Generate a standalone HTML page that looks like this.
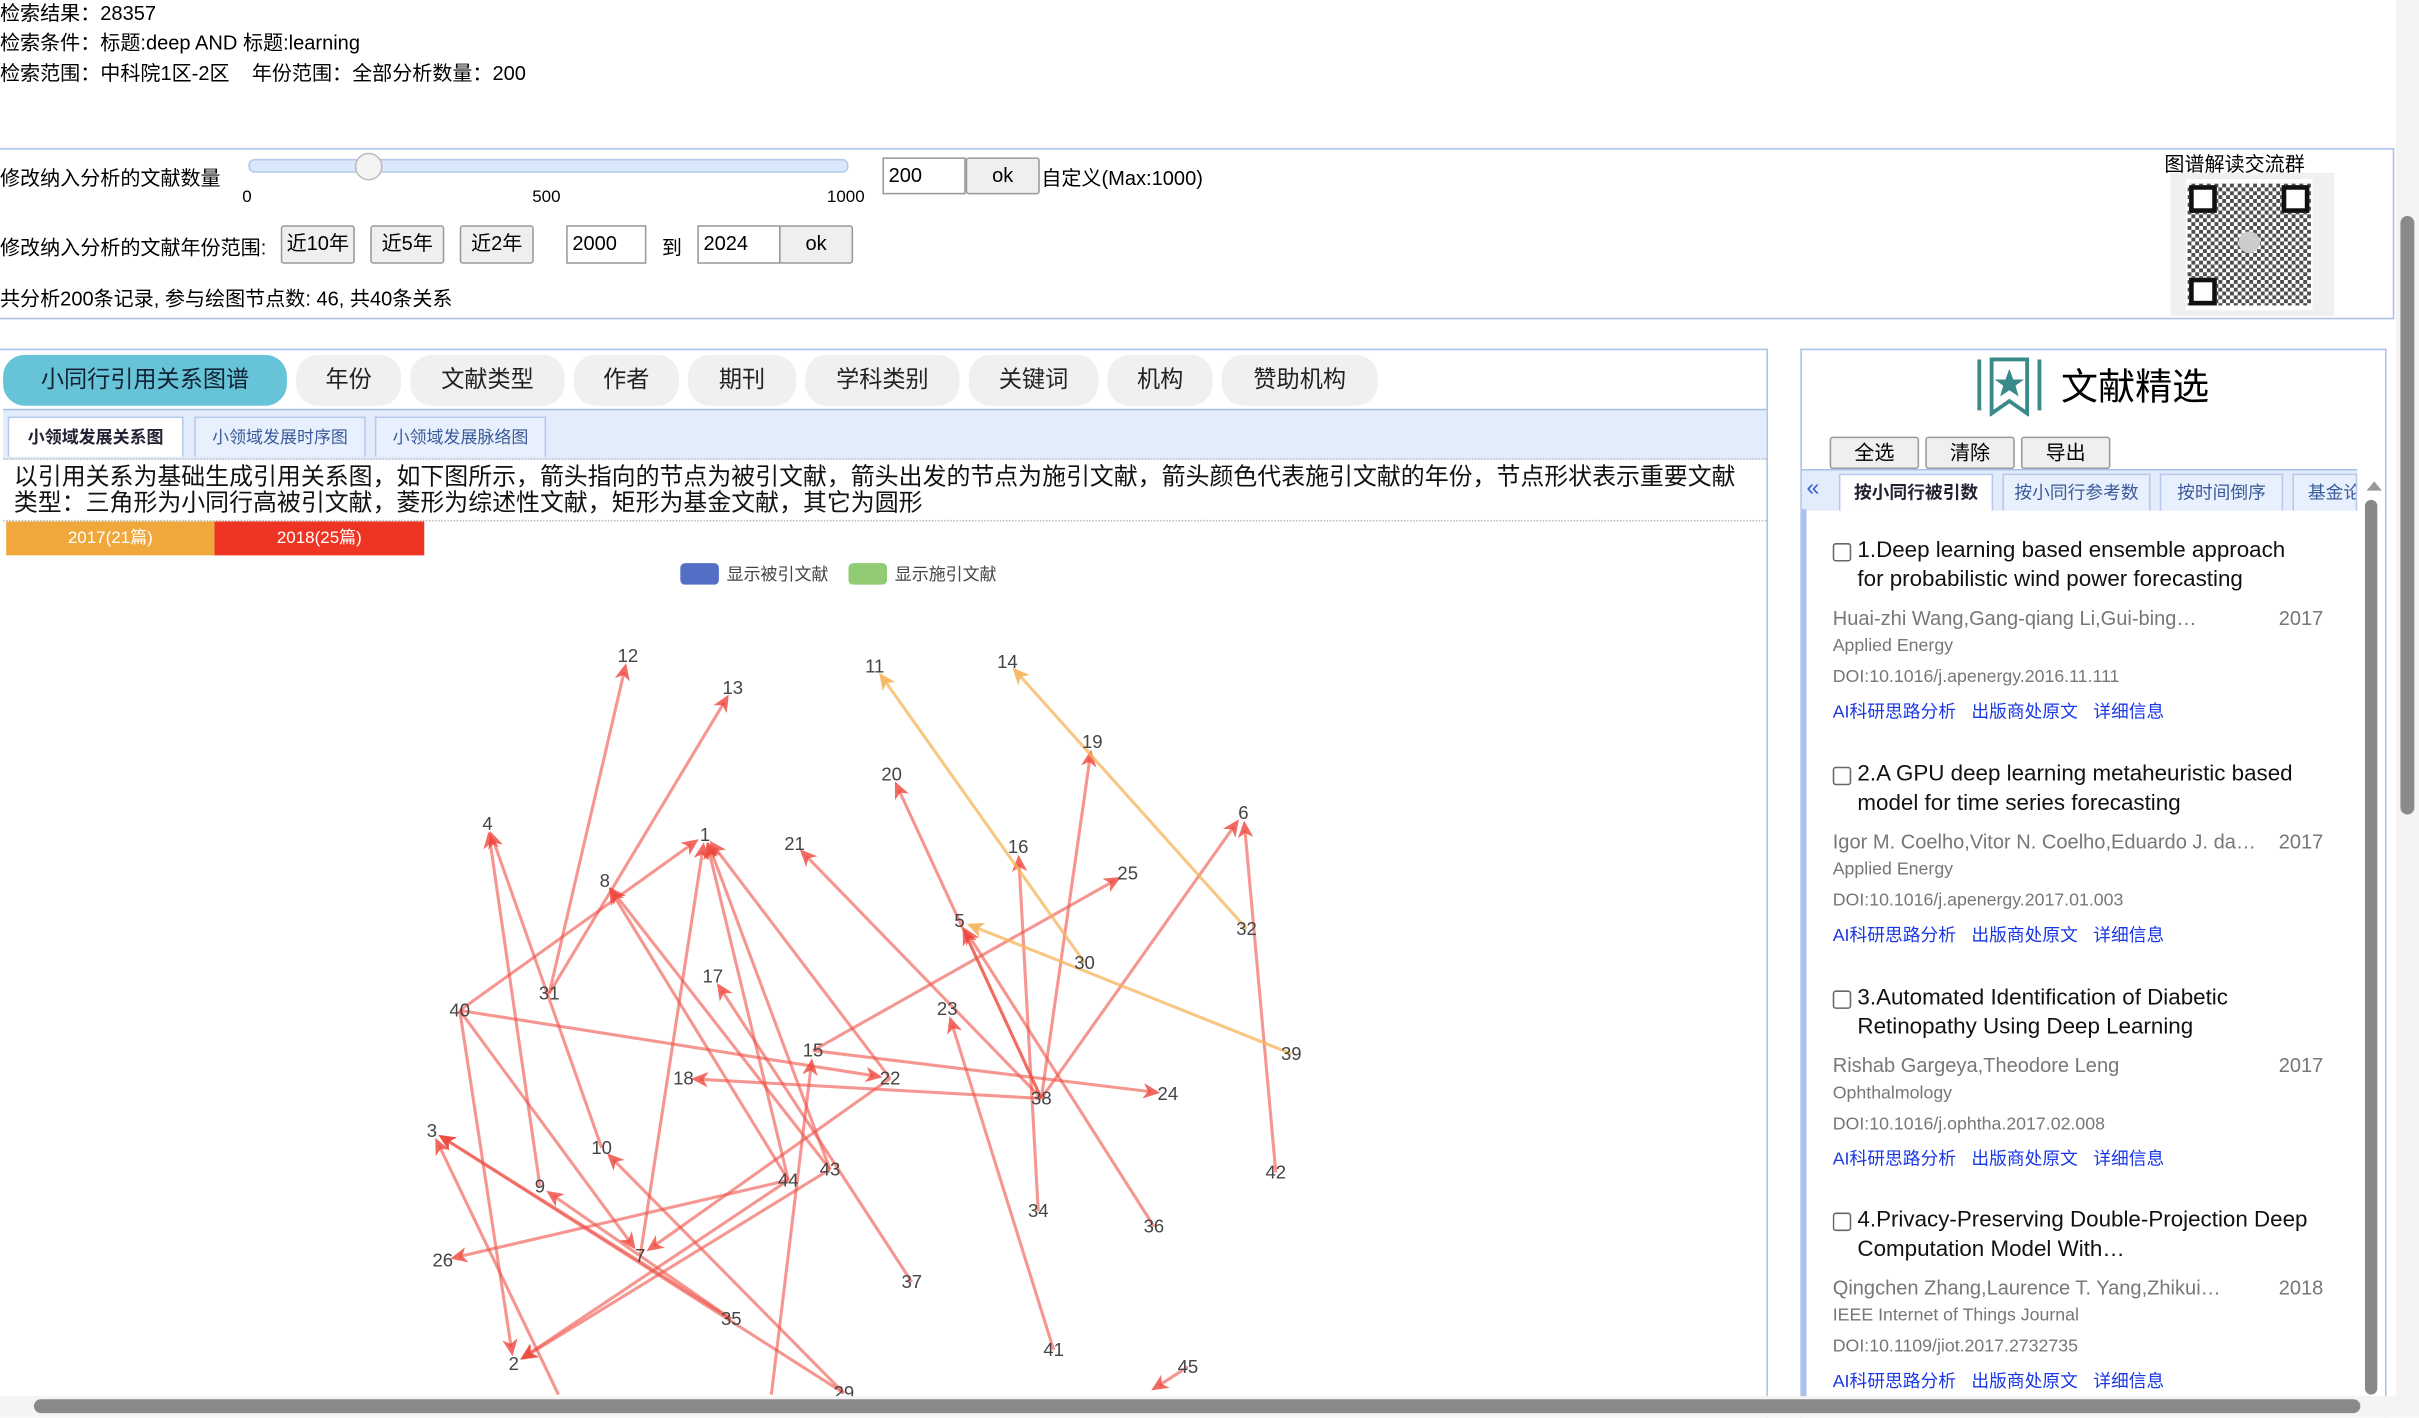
<!DOCTYPE html>
<html><head><meta charset="utf-8">
<style>
html,body{margin:0;padding:0;width:2419px;height:1418px;overflow:hidden;background:#fff}
#wrap{position:absolute;left:0;top:0;width:1568px;height:919px;overflow:hidden;transform:scale(1.5427);transform-origin:0 0;font-family:"Liberation Sans","Noto Sans CJK SC",sans-serif;font-size:13px;color:#000}
.a{position:absolute}
.btn{position:absolute;background:#efefef;border:1px solid #999;border-radius:2px;text-align:center;font-size:13px;line-height:22px;box-sizing:border-box}
.inp{position:absolute;background:#fff;border:1px solid #999;font-size:13px;line-height:22px;padding-left:3px;box-sizing:border-box}
.tab{position:absolute;top:230px;height:33px;background:#f0f0f0;border-radius:14px;text-align:center;line-height:33px;font-size:15px;color:#222}
.sub{position:absolute;top:270px;height:26px;background:#e8f0fd;border:1px solid #b7c9ee;border-bottom:none;font-size:11px;line-height:26px;text-align:center;color:#3a5a9a;box-sizing:border-box}
.item{position:absolute;left:1188px;width:330px}
.t{font-size:14.5px;line-height:18.5px;color:#111;padding-left:16px;position:relative;width:294px}
.t .cb{position:absolute;left:0;top:4px;width:10px;height:10px;border:1px solid #666;border-radius:2px}
.au{color:#777;font-size:13px;margin-top:8px;position:relative}
.au span{position:absolute;right:12px}
.jn{color:#777;font-size:11.5px;margin-top:5px}
.doi{color:#777;font-size:11.5px;margin-top:8px}
.lk{color:#1a37e6;font-size:11.5px;margin-top:8px}
.lk span{margin-right:10px}
</style></head><body>
<div id="wrap">
<div class="a" style="left:0;top:-2px">检索结果：28357</div>
<div class="a" style="left:0;top:17px">检索条件：标题:deep AND 标题:learning</div>
<div class="a" style="left:0;top:37px">检索范围：中科院1区-2区&nbsp;&nbsp;&nbsp;&nbsp;年份范围：全部分析数量：200</div>

<div class="a" style="left:0;top:96px;width:1551px;height:109px;border:1px solid #a9c1ea;border-left:none"></div>
<div class="a" style="left:0;top:105px">修改纳入分析的文献数量</div>
<div class="a" style="left:161px;top:103px;width:387px;height:7px;background:#dbe7fb;border:1px solid #b4c8ee;border-radius:4px"></div>
<div class="a" style="left:230px;top:99px;width:16px;height:16px;border-radius:50%;background:#f4f4f4;border:1px solid #bbb"></div>
<div class="a" style="left:157px;top:122px;font-size:11px">0</div>
<div class="a" style="left:345px;top:122px;font-size:11px">500</div>
<div class="a" style="left:536px;top:122px;font-size:11px">1000</div>
<div class="inp" style="left:572px;top:102px;width:54px;height:24px">200</div>
<div class="btn" style="left:626px;top:102px;width:48px;height:24px">ok</div>
<div class="a" style="left:675px;top:105px">自定义(Max:1000)</div>
<div class="a" style="left:0;top:150px">修改纳入分析的文献年份范围:</div>
<div class="btn" style="left:182px;top:146px;width:48px;height:25px">近10年</div>
<div class="btn" style="left:240px;top:146px;width:48px;height:25px">近5年</div>
<div class="btn" style="left:298px;top:146px;width:48px;height:25px">近2年</div>
<div class="inp" style="left:367px;top:146px;width:52px;height:25px">2000</div>
<div class="a" style="left:429px;top:150px">到</div>
<div class="inp" style="left:452px;top:146px;width:54px;height:25px">2024</div>
<div class="btn" style="left:505px;top:146px;width:48px;height:25px">ok</div>
<div class="a" style="left:0;top:183px">共分析200条记录, 参与绘图节点数: 46, 共40条关系</div>
<div class="a" style="left:1403px;top:96px">图谱解读交流群</div>
<div class="a" style="left:1407px;top:112px;width:106px;height:93px;background:#f0f0f0">
<div style="position:absolute;left:10px;top:4px;width:82px;height:85px;background:#fff"></div>
<div style="position:absolute;left:11px;top:7px;width:80px;height:79px;background:repeating-conic-gradient(#222 0 25%,#fff 0 50%) 0 0/5px 5px;opacity:.8"></div>
<div style="position:absolute;left:12px;top:8px;width:12px;height:12px;border:3px solid #111;background:#fff"></div>
<div style="position:absolute;left:72px;top:8px;width:12px;height:12px;border:3px solid #111;background:#fff"></div>
<div style="position:absolute;left:12px;top:68px;width:12px;height:12px;border:3px solid #111;background:#fff"></div>
<div style="position:absolute;left:44px;top:38px;width:14px;height:14px;border-radius:50%;background:#ccc"></div>
</div>

<div class="a" style="left:0;top:226px;width:1145px;height:692px;border:1px solid #a9c1ea;border-left:none;border-bottom:none"></div>
<div class="tab" style="left:2px;width:184px;background:#67c3d8;color:#123">小同行引用关系图谱</div>
<div class="tab" style="left:192px;width:68px">年份</div>
<div class="tab" style="left:266px;width:100px">文献类型</div>
<div class="tab" style="left:372px;width:68px">作者</div>
<div class="tab" style="left:446px;width:70px">期刊</div>
<div class="tab" style="left:522px;width:100px">学科类别</div>
<div class="tab" style="left:628px;width:84px">关键词</div>
<div class="tab" style="left:718px;width:68px">机构</div>
<div class="tab" style="left:792px;width:101px">赞助机构</div>
<div class="a" style="left:2px;top:265px;width:1143px;height:31px;background:#e3ecfb;border-top:1px solid #a9c1ea;border-bottom:1px dotted #bbb"></div>
<div class="sub" style="left:5px;width:114px;background:#fff;font-weight:bold;color:#223">小领域发展关系图</div>
<div class="sub" style="left:126px;width:111px">小领域发展时序图</div>
<div class="sub" style="left:243px;width:111px">小领域发展脉络图</div>
<div class="a" style="left:9px;top:301px;width:1130px;font-size:15.5px;line-height:17px;color:#111">以引用关系为基础生成引用关系图，如下图所示，箭头指向的节点为被引文献，箭头出发的节点为施引文献，箭头颜色代表施引文献的年份，节点形状表示重要文献类型：三角形为小同行高被引文献，菱形为综述性文献，矩形为基金文献，其它为圆形</div>
<div class="a" style="left:2px;top:337px;width:1143px;border-top:1px dotted #bbb"></div>
<div class="a" style="left:4px;top:338px;width:135px;height:22px;background:#f0a83c;color:#fff;font-size:11px;line-height:22px;text-align:center">2017(21篇)</div>
<div class="a" style="left:139px;top:338px;width:136px;height:22px;background:#ee3524;color:#fff;font-size:11px;line-height:22px;text-align:center">2018(25篇)</div>
<div class="a" style="left:441px;top:365px;width:25px;height:14px;background:#5470c6;border-radius:3px"></div>
<div class="a" style="left:471px;top:364px;font-size:11px;color:#444">显示被引文献</div>
<div class="a" style="left:550px;top:365px;width:25px;height:14px;background:#91cc75;border-radius:3px"></div>
<div class="a" style="left:580px;top:364px;font-size:11px;color:#444">显示施引文献</div>

<svg class="a" id="graph" style="left:0;top:380px;overflow:hidden" width="1145" height="525"></svg>

<div class="a" style="left:1167px;top:226px;width:378px;height:692px;border:1px solid #a9c1ea;border-bottom:none"></div>
<svg class="a" style="left:1281px;top:230px" width="44" height="40"><g stroke="#3a8a8a" stroke-width="2.5" fill="none"><line x1="2" y1="3" x2="2" y2="36"/><line x1="41" y1="3" x2="41" y2="36"/><path d="M10 3 H33 V38 L21.5 30 L10 38 Z"/></g><polygon points="21.5,9 24,16 31,16 25.5,20 27.5,27 21.5,23 15.5,27 17.5,20 12,16 19,16" fill="#3a8a8a"/></svg>
<div class="a" style="left:1336px;top:231px;font-size:24px">文献精选</div>
<div class="btn" style="left:1186px;top:283px;width:58px;height:21px;line-height:20px">全选</div>
<div class="btn" style="left:1248px;top:283px;width:58px;height:21px;line-height:20px">清除</div>
<div class="btn" style="left:1310px;top:283px;width:58px;height:21px;line-height:20px">导出</div>
<div class="a" style="left:1168px;top:304px;width:360px;height:26px;background:#e3ecfb;border-top:1px solid #a9c1ea"></div>
<div class="a" style="left:1171px;top:308px;color:#3a5ad0;font-size:15px">«</div>
<div class="sub" style="left:1192px;top:307px;width:100px;height:24px;line-height:24px;background:#fff;font-weight:bold;color:#223;font-size:11.5px">按小同行被引数</div>
<div class="sub" style="left:1298px;top:307px;width:96px;height:24px;line-height:24px;font-size:11.5px">按小同行参考数</div>
<div class="sub" style="left:1400px;top:307px;width:80px;height:24px;line-height:24px;font-size:11.5px">按时间倒序</div>
<div class="sub" style="left:1486px;top:307px;width:42px;height:24px;line-height:24px;font-size:11.5px;overflow:hidden;white-space:nowrap;text-align:left;padding-left:9px">基金论文</div>
<div class="a" style="left:1168px;top:330px;width:3px;height:588px;background:#a9c1ea"></div>
<div class="a" style="left:1534px;top:312px;width:0;height:0;border-left:5px solid transparent;border-right:5px solid transparent;border-bottom:6px solid #999"></div>
<div class="a" style="left:1533px;top:324px;width:8px;height:580px;background:#888;border-radius:4px"></div>

<div class="item" style="top:348px"><div class="t"><span class="cb"></span>1.Deep learning based ensemble approach for probabilistic wind power forecasting</div><div class="au">Huai-zhi Wang,Gang-qiang Li,Gui-bing…<span>2017</span></div><div class="jn">Applied Energy</div><div class="doi">DOI:10.1016/j.apenergy.2016.11.111</div><div class="lk"><span>AI科研思路分析</span><span>出版商处原文</span><span>详细信息</span></div></div>
<div class="item" style="top:493px"><div class="t"><span class="cb"></span>2.A GPU deep learning metaheuristic based model for time series forecasting</div><div class="au">Igor M. Coelho,Vitor N. Coelho,Eduardo J. da…<span>2017</span></div><div class="jn">Applied Energy</div><div class="doi">DOI:10.1016/j.apenergy.2017.01.003</div><div class="lk"><span>AI科研思路分析</span><span>出版商处原文</span><span>详细信息</span></div></div>
<div class="item" style="top:638px"><div class="t"><span class="cb"></span>3.Automated Identification of Diabetic Retinopathy Using Deep Learning</div><div class="au">Rishab Gargeya,Theodore Leng<span>2017</span></div><div class="jn">Ophthalmology</div><div class="doi">DOI:10.1016/j.ophtha.2017.02.008</div><div class="lk"><span>AI科研思路分析</span><span>出版商处原文</span><span>详细信息</span></div></div>
<div class="item" style="top:782px;height:122px;overflow:hidden"><div class="t"><span class="cb"></span>4.Privacy-Preserving Double-Projection Deep Computation Model With…</div><div class="au">Qingchen Zhang,Laurence T. Yang,Zhikui…<span>2018</span></div><div class="jn">IEEE Internet of Things Journal</div><div class="doi">DOI:10.1109/jiot.2017.2732735</div><div class="lk"><span>AI科研思路分析</span><span>出版商处原文</span><span>详细信息</span></div></div>

<div class="a" style="left:1553px;top:0;width:15px;height:919px;background:#f4f4f4"></div>
<div class="a" style="left:1556px;top:140px;width:9px;height:388px;background:#8a8a8a;border-radius:5px"></div>
<div class="a" style="left:0;top:905px;width:1553px;height:14px;background:#f4f4f4"></div>
<div class="a" style="left:22px;top:907px;width:1508px;height:9px;background:#8a8a8a;border-radius:5px"></div>
</div>
<script>
// node ids and positions (graph layout coordinates)
const nodeIds=[12,13,11,14,19,20,6,4,1,21,16,25,8,5,32,30,17,31,40,23,39,15,22,18,38,24,3,10,43,44,42,9,34,36,7,26,37,35,41,2,45,29,46,47,48];
const nodeX=[407,475,567,653,708,578,806,316,457,515,660,731,392,622,808,703,462,356,298,614,837,527,577,443,675,757,280,390,538,511,827,350,673,748,415,287,591,474,683,333,770,547,362,500,742];
const nodeY=[425,446,432,429,481,502,527,534,541,547,549,566,571,597,602,624,633,644,655,654,683,681,699,699,712,709,733,744,758,765,760,769,785,795,814,817,831,855,875,884,886,903,904,904,904];
// edges: source -> target, year of source
const edgeSrc=[31,31,40,9,10,7,44,43,22,44,43,37,38,38,38,36,34,38,38,42,15,40,15,38,41,40,40,22,44,44,43,35,29,47,35,29,46,45,30,32,39];
const edgeTgt=[12,13,1,4,4,1,1,1,1,8,8,17,21,20,5,5,16,19,6,6,25,22,24,18,23,7,2,7,26,2,2,3,3,15,9,10,3,48,11,14,5];
const edgeYear=[2018,2018,2018,2018,2018,2018,2018,2018,2018,2018,2018,2018,2018,2018,2018,2018,2018,2018,2018,2018,2018,2018,2018,2018,2018,2018,2018,2018,2018,2018,2018,2018,2018,2018,2018,2018,2018,2018,2017,2017,2017];
const svg=document.getElementById('graph');
const NS='http://www.w3.org/2000/svg';
const OY=380;
function px(id){return nodeX[nodeIds.indexOf(id)];}
function py(id){return nodeY[nodeIds.indexOf(id)]-OY;}
edgeSrc.forEach((s,i)=>{
  const x1=px(s),y1=py(s),x2=px(edgeTgt[i]),y2=py(edgeTgt[i]);
  const col=edgeYear[i]===2017?'rgba(245,180,90,0.75)':'rgba(238,80,70,0.6)';
  const dx=x2-x1,dy=y2-y1,L=Math.hypot(dx,dy),ux=dx/L,uy=dy/L;
  const ex=x2-ux*5,ey=y2-uy*5;
  const ln=document.createElementNS(NS,'line');
  
  
  ln.setAttribute('x1',x1);ln.setAttribute('y1',y1);ln.setAttribute('x2',ex-ux*6);ln.setAttribute('y2',ey-uy*6);
  ln.setAttribute('stroke',col);ln.setAttribute('stroke-width','2');
  svg.appendChild(ln);
  const nx=-uy,ny=ux;
  const pts=[[ex,ey],[ex-ux*11+nx*5,ey-uy*11+ny*5],[ex-ux*8,ey-uy*8],[ex-ux*11-nx*5,ey-uy*11-ny*5]];
  const ar=document.createElementNS(NS,'polygon');
  
  
  ar.setAttribute('points',pts.map(p=>p.join(',')).join(' '));
  ar.setAttribute('fill',edgeYear[i]===2017?'rgba(245,180,90,0.9)':'rgba(238,70,60,0.8)');
  svg.appendChild(ar);
});
nodeIds.forEach((id,i)=>{
  if(id>45)return;
  const t=document.createElementNS(NS,'text');
  
  
  t.setAttribute('x',nodeX[i]);t.setAttribute('y',nodeY[i]-OY+4);
  t.setAttribute('text-anchor','middle');t.setAttribute('font-size','12');
  t.setAttribute('fill','#444');t.setAttribute('font-family','Liberation Sans, sans-serif');
  t.textContent=id;
  svg.appendChild(t);
});
</script>
</body></html>
